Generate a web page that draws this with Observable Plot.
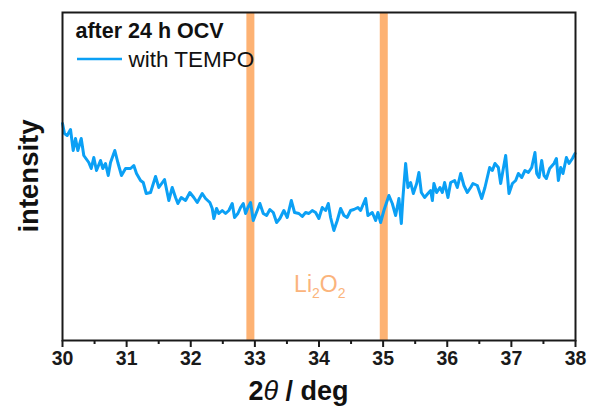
<!DOCTYPE html>
<html><head><meta charset="utf-8">
<script src="https://cdn.jsdelivr.net/npm/d3@7"></script>
<script src="https://cdn.jsdelivr.net/npm/@observablehq/plot@0.6"></script>
<style>
body{margin:0;background:#fff}
svg{font-family:Arial,"Liberation Sans",sans-serif}
</style>
</head><body><div id="chart"></div>
<script>
const twoTheta = [30.000,30.031,30.073,30.125,30.167,30.203,30.239,30.292,30.332,30.410,30.448,30.488,30.530,30.593,30.629,30.671,30.713,30.749,30.816,30.863,30.920,30.983,31.061,31.112,31.154,31.217,31.259,31.306,31.373,31.451,31.502,31.591,31.658,31.711,31.763,31.799,31.852,31.919,31.986,32.048,32.101,32.179,32.231,32.298,32.335,32.360,32.402,32.438,32.491,32.543,32.594,32.647,32.683,32.735,32.777,32.819,32.855,32.891,32.933,32.975,33.037,33.078,33.131,33.183,33.234,33.287,33.339,33.390,33.452,33.505,33.568,33.619,33.686,33.739,33.791,33.842,33.895,33.947,33.998,34.051,34.103,34.145,34.181,34.232,34.285,34.337,34.389,34.438,34.493,34.544,34.607,34.649,34.727,34.763,34.831,34.883,34.919,34.961,35.012,35.090,35.143,35.195,35.246,35.284,35.309,35.351,35.387,35.429,35.471,35.523,35.558,35.596,35.647,35.699,35.741,35.768,35.792,35.835,35.886,35.924,35.959,36.011,36.053,36.115,36.157,36.209,36.260,36.313,36.365,36.401,36.469,36.537,36.588,36.661,36.704,36.744,36.797,36.833,36.869,36.911,36.963,37.016,37.067,37.109,37.161,37.212,37.265,37.317,37.368,37.395,37.431,37.473,37.509,37.546,37.597,37.665,37.702,37.733,37.769,37.805,37.858,37.899,37.952,37.993];
const intensity = [217,207,205,211,190,202,190,202,185,178,172,183,170,180,172,177,165,178,190,178,165,172,172,175,167,160,158,147,148,164,153,161,140,153,143,137,143,140,148,143,138,147,142,138,132,122,132,127,130,127,130,137,123,127,133,137,127,133,138,120,130,137,127,125,131,128,118,122,130,123,140,128,127,124,128,127,130,128,122,133,130,137,123,110,120,132,125,123,130,131,133,130,142,125,128,120,128,118,130,145,137,125,142,117,143,177,153,158,147,157,168,148,143,147,150,140,157,148,153,148,158,143,158,160,153,167,155,148,153,157,155,142,153,173,170,177,173,157,170,185,147,157,160,167,163,170,168,173,188,167,163,180,165,162,172,177,182,160,173,167,183,177,182,187];
const refPeaks = [32.93, 35.01];
const majorTicks = [30,31,32,33,34,35,36,37,38];
const minorTicks = [30.5,31.5,32.5,33.5,34.5,35.5,36.5,37.5];
const legendTitle = "after 24 h OCV";
const seriesName = "with TEMPO";
const yLabel = "intensity";
const peakLabel = {x: 34.02, y: 48};

const blue = "#0ba0f5";
const orange = "#fdb273";
const orangeText = "#fbb47c";

const data = twoTheta.map((t, i) => ({t, v: intensity[i]}));

function richText(parts, place) {
  return (index, scales, values, dim) => {
    const t = d3.create("svg:text");
    const p = place(scales, dim);
    t.attr("transform", p.transform).attr("text-anchor", p.anchor || "middle")
     .attr("fill", p.fill || "#000").attr("font-size", p.size)
     .attr("font-weight", p.weight || "normal");
    for (const part of parts) {
      const s = t.append("tspan").text(part.text);
      if (part.size) s.attr("font-size", part.size);
      if (part.dy) s.attr("dy", part.dy);
      if (part.italic) s.attr("font-style", "italic");
      if (part.weight) s.attr("font-weight", part.weight);
    }
    return t.node();
  };
}

const legendSwatch = (index, scales, dim) => {
  const x0 = dim.marginLeft;
  const y0 = dim.marginTop;
  return d3.create("svg:line")
    .attr("x1", x0 + 15).attr("x2", x0 + 60)
    .attr("y1", y0 + 47).attr("y2", y0 + 47)
    .attr("stroke", blue).attr("stroke-width", 2.5).node();
};

const chart = Plot.plot({
  width: 589, height: 407,
  marginLeft: 62, marginRight: 14, marginTop: 12, marginBottom: 67,
  x: {domain: [30, 38]},
  y: {domain: [0, 328], axis: null},
  marks: [
    Plot.ruleX(refPeaks, {stroke: orange, strokeWidth: 8}),
    Plot.line(data, {x: "t", y: "v", stroke: blue, strokeWidth: 3, strokeLinejoin: "round"}),
    Plot.frame({stroke: "#1a1a1a", strokeWidth: 2}),
    Plot.axisX({ticks: majorTicks, tickSize: 7, tickPadding: 4, strokeWidth: 2, stroke: "#1a1a1a",
      fontSize: 19.5, fontWeight: "bold", fill: "#1a1a1a", label: null, tickFormat: d => String(d)}),
    Plot.axisX({ticks: minorTicks, tickSize: 4, strokeWidth: 2, stroke: "#1a1a1a", label: null, tickFormat: () => ""}),
    Plot.text([legendTitle], {frameAnchor: "top-left", dx: 13, dy: 25, lineAnchor: "bottom", textAnchor: "start",
      fontSize: 21.5, fontWeight: "bold", fill: "#111"}),
    Plot.text([seriesName], {frameAnchor: "top-left", dx: 66, dy: 54, lineAnchor: "bottom", textAnchor: "start",
      fontSize: 22.5, fill: "#111"}),
    (index, scales, values, dim) => legendSwatch(index, scales, dim),
    richText([{text: "Li"}, {text: "2", size: 14, dy: 6}, {text: "O", dy: -6}, {text: "2", size: 14, dy: 6}],
      (s) => ({transform: `translate(${s.x(peakLabel.x)},${s.y(peakLabel.y)})`, size: 23, fill: orangeText, weight: 500})),
    richText([{text: "2"}, {text: "θ", italic: true, weight: "normal"}, {text: " / deg"}],
      (s, d) => ({transform: `translate(${(d.marginLeft + d.width - d.marginRight) / 2 - 20},${d.height - 7})`, size: 27, weight: "bold", fill: "#111"})),
    richText([{text: yLabel}],
      (s, d) => ({transform: `translate(38,${(d.marginTop + d.height - d.marginBottom) / 2}) rotate(-90)`, size: 27.5, weight: "bold", fill: "#111"}))
  ]
});
document.getElementById("chart").appendChild(chart);
</script>
</body></html>
